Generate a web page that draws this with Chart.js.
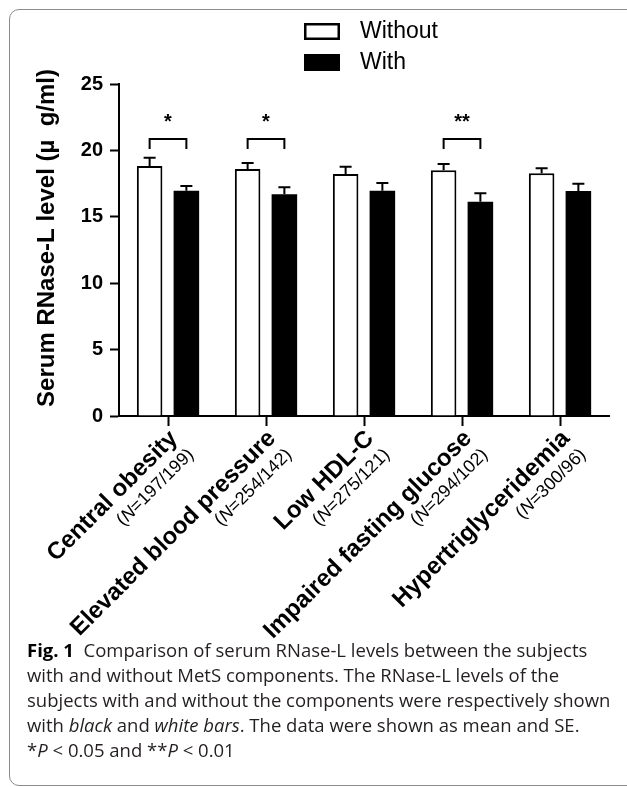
<!DOCTYPE html>
<html>
<head>
<meta charset="utf-8">
<script src="https://cdn.jsdelivr.net/npm/chart.js@4.4.1/dist/chart.umd.min.js"></script>
<style>
  html, body { margin: 0; padding: 0; background: #fff; }
  #page { position: relative; width: 627px; height: 787px; overflow: hidden; }
  #frame { position: absolute; left: 9px; top: 9px; width: 700px; height: 775px; border: 1.5px solid #8c8c8c; border-radius: 10px; }
  #chart-wrap { position: absolute; left: 0; top: 0; width: 627px; height: 650px; }
  #caption { position: absolute; left: 27px; top: 637px; font-family: 'Open Sans', sans-serif; font-size: 18.5px; line-height: 25px; color: #231f20; white-space: nowrap; }
  #caption b { color: #000; }
</style>
</head>
<body>
<div id="page">
  <div id="frame"></div>
  <div id="chart-wrap"><canvas id="rnase-chart"></canvas></div>
  <div id="caption">
    <div><b>Fig. 1</b>&nbsp; Comparison of serum RNase-L levels between the subjects</div>
    <div>with and without MetS components. The RNase-L levels of the</div>
    <div>subjects with and without the components were respectively shown</div>
    <div>with <i>black</i> and <i>white bars</i>. The data were shown as mean and SE.</div>
    <div>*<i>P</i> &lt; 0.05 and **<i>P</i> &lt; 0.01</div>
  </div>
</div>
<script>
const categories = ['Central obesity', 'Elevated blood pressure', 'Low HDL-C', 'Impaired fasting glucose', 'Hypertriglyceridemia'];
const sampleSizes = ['197/199', '254/142', '275/121', '294/102', '300/96'];
const withoutMean = [18.83, 18.6, 18.22, 18.5, 18.27];
const withoutSE = [0.62, 0.45, 0.55, 0.48, 0.38];
const withMean = [16.97, 16.69, 16.97, 16.14, 16.94];
const withSE = [0.35, 0.53, 0.58, 0.63, 0.55];
const significance = ['*', '*', '', '**', ''];
const yTicks = [0, 5, 10, 15, 20, 25];
const bracketTop = 20.85;
const bracketLeg = 20.1;
const starLevel = 22.1;

const FONT = '"Liberation Sans", Arial, Helvetica, sans-serif';

// upper half of the SE whiskers
const errorBars = {
  id: 'errorBars',
  afterDatasetsDraw(chart) {
    const ctx = chart.ctx;
    const y = chart.scales.y;
    [withoutSE, withSE].forEach((se, di) => {
      const means = chart.data.datasets[di].data;
      chart.getDatasetMeta(di).data.forEach((bar, i) => {
        const top = y.getPixelForValue(means[i] + se[i]);
        ctx.save();
        ctx.strokeStyle = '#000';
        ctx.lineWidth = 2;
        ctx.beginPath();
        ctx.moveTo(bar.x, bar.y);
        ctx.lineTo(bar.x, top);
        ctx.moveTo(bar.x - 6, top);
        ctx.lineTo(bar.x + 6, top);
        ctx.stroke();
        ctx.restore();
      });
    });
  }
};

// significance brackets and stars
const brackets = {
  id: 'brackets',
  afterDatasetsDraw(chart) {
    const ctx = chart.ctx;
    const y = chart.scales.y;
    const a = chart.getDatasetMeta(0).data;
    const b = chart.getDatasetMeta(1).data;
    significance.forEach((mark, i) => {
      if (!mark) return;
      const yTop = y.getPixelForValue(bracketTop);
      const yLeg = y.getPixelForValue(bracketLeg);
      ctx.save();
      ctx.strokeStyle = '#000';
      ctx.lineWidth = 2;
      ctx.beginPath();
      ctx.moveTo(a[i].x, yLeg);
      ctx.lineTo(a[i].x, yTop);
      ctx.lineTo(b[i].x, yTop);
      ctx.lineTo(b[i].x, yLeg);
      ctx.stroke();
      ctx.fillStyle = '#000';
      ctx.font = 'bold 20px ' + FONT;
      ctx.textAlign = 'center';
      ctx.textBaseline = 'middle';
      ctx.fillText(mark, (a[i].x + b[i].x) / 2, y.getPixelForValue(starLevel));
      ctx.restore();
    });
  }
};

// rotated two-line category labels
const xLabels = {
  id: 'xLabels',
  afterDraw(chart) {
    const ctx = chart.ctx;
    const x = chart.scales.x;
    const base = chart.chartArea.bottom;
    categories.forEach((name, i) => {
      const px = x.getPixelForTick(i);
      ctx.save();
      ctx.translate(px + 6, base + 19);
      ctx.rotate(-Math.PI / 4);
      ctx.fillStyle = '#000';
      ctx.textAlign = 'right';
      ctx.textBaseline = 'middle';
      ctx.font = 'bold 24px ' + FONT;
      ctx.fillText(name, 0, 0);
      const rest = '=' + sampleSizes[i] + ')';
      ctx.font = '18px ' + FONT;
      ctx.fillText(rest, 0, 24);
      let w = ctx.measureText(rest).width;
      ctx.font = 'italic 18px ' + FONT;
      ctx.fillText('N', -w, 24);
      w += ctx.measureText('N').width;
      ctx.font = '18px ' + FONT;
      ctx.fillText('(', -w, 24);
      ctx.restore();
    });
  }
};

// stacked legend and rotated y title
const decorations = {
  id: 'decorations',
  afterDraw(chart) {
    const ctx = chart.ctx;
    ctx.save();
    chart.data.datasets.forEach((ds, i) => {
      const top = 23 + i * 31;
      ctx.fillStyle = ds.backgroundColor;
      ctx.fillRect(304, top, 36, 17);
      ctx.strokeStyle = '#000';
      ctx.lineWidth = 2.5;
      ctx.strokeRect(305.25, top + 1.25, 33.5, 14.5);
      ctx.fillStyle = '#000';
      ctx.font = '23px ' + FONT;
      ctx.textAlign = 'left';
      ctx.textBaseline = 'middle';
      ctx.fillText(ds.label, 360, top + 9);
    });
    const area = chart.chartArea;
    ctx.translate(47, (area.top + area.bottom) / 2 - 12);
    ctx.rotate(-Math.PI / 2);
    ctx.font = 'bold 24px ' + FONT;
    ctx.textAlign = 'center';
    ctx.textBaseline = 'middle';
    ctx.fillText('Serum RNase-L level (\u00b5  g/ml)', 0, 0);
    ctx.restore();
  }
};

new Chart(document.getElementById('rnase-chart').getContext('2d'), {
  type: 'bar',
  data: {
    labels: categories,
    datasets: [
      {
        label: 'Without',
        data: withoutMean,
        backgroundColor: '#ffffff',
        borderColor: '#000000',
        borderWidth: 2
      },
      {
        label: 'With',
        data: withMean,
        backgroundColor: '#000000',
        borderColor: '#000000',
        borderWidth: 0
      }
    ]
  },
  options: {
    responsive: true,
    maintainAspectRatio: false,
    devicePixelRatio: 1,
    animation: false,
    categoryPercentage: 0.75,
    barPercentage: 0.695,
    layout: { padding: { left: 0, right: 18, top: 84, bottom: 0 } },
    plugins: {
      legend: { display: false },
      tooltip: { enabled: false }
    },
    scales: {
      x: {
        grid: { offset: false, drawOnChartArea: false, drawTicks: true, tickLength: 10, tickWidth: 2, tickColor: '#000' },
        border: { display: true, color: '#000', width: 2 },
        ticks: { display: false },
        afterFit(scale) {
          scale.height = 650 - 416;
          scale.paddingLeft = 0;
          scale.paddingRight = 0;
        }
      },
      y: {
        min: 0,
        max: 25,
        afterBuildTicks(scale) {
          scale.ticks = yTicks.map(v => ({ value: v }));
        },
        grid: { drawOnChartArea: false, drawTicks: true, tickLength: 9, tickWidth: 2, tickColor: '#000' },
        border: { display: true, color: '#000', width: 2 },
        ticks: {
          color: '#000',
          padding: 7,
          font: { family: FONT, size: 20, weight: 'bold' }
        },
        afterFit(scale) {
          scale.width = 119;
          scale.paddingTop = 0;
          scale.paddingBottom = 0;
        }
      }
    }
  },
  plugins: [errorBars, brackets, xLabels, decorations]
});
</script>
</body>
</html>
